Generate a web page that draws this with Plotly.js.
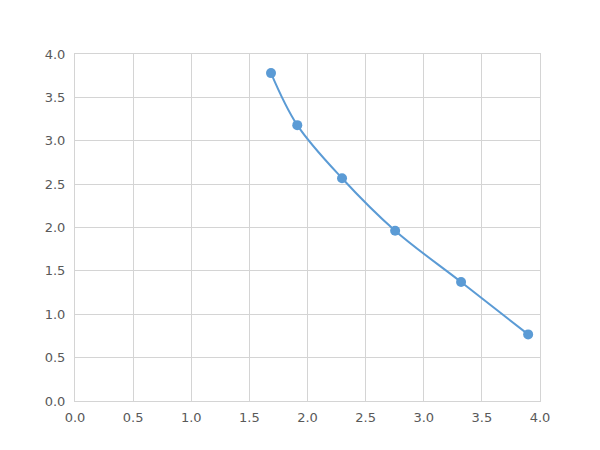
<!DOCTYPE html>
<html>
<head>
<meta charset="utf-8">
<script src="https://cdn.plot.ly/plotly-3.0.1.min.js"></script>
<style>
  html, body { margin: 0; padding: 0; background: #fff; }
  #chart { width: 600px; height: 450px; }
</style>
</head>
<body>
<div id="chart"></div>
<script>
const xValues = [1.686, 1.912, 2.297, 2.754, 3.321, 3.898];
const yValues = [3.78, 3.18, 2.568, 1.963, 1.372, 0.768];
const tickVals = [0, 0.5, 1, 1.5, 2, 2.5, 3, 3.5, 4];
const tickText = ["0.0", "0.5", "1.0", "1.5", "2.0", "2.5", "3.0", "3.5", "4.0"];

const gridColor = "#d4d4d4";
const textColor = "#595959";

const trace = {
  type: "scatter",
  mode: "lines+markers",
  x: xValues,
  y: yValues,
  line: { color: "#5b9bd5", width: 2, shape: "spline", smoothing: 1 },
  marker: { color: "#5b9bd5", size: 10 },
  showlegend: false,
  hoverinfo: "x+y",
};

const axisBase = {
  range: [0, 4],
  tickvals: tickVals,
  ticktext: tickText,
  showgrid: true,
  gridcolor: gridColor,
  gridwidth: 1,
  showline: true,
  linecolor: gridColor,
  linewidth: 1,
  mirror: true,
  zeroline: false,
  ticks: "",
  tickfont: { family: "DejaVu Sans", size: 13, color: textColor },
  fixedrange: true,
};

const layout = {
  width: 600,
  height: 450,
  paper_bgcolor: "#ffffff",
  plot_bgcolor: "#ffffff",
  margin: { l: 75, r: 60, t: 54, b: 49, pad: 0 },
  xaxis: Object.assign({}, axisBase, { ticklabelstandoff: 4 }),
  yaxis: Object.assign({}, axisBase, { ticklabelstandoff: 6 }),
};

Plotly.newPlot("chart", [trace], layout, { displayModeBar: false, staticPlot: true });
</script>
</body>
</html>
